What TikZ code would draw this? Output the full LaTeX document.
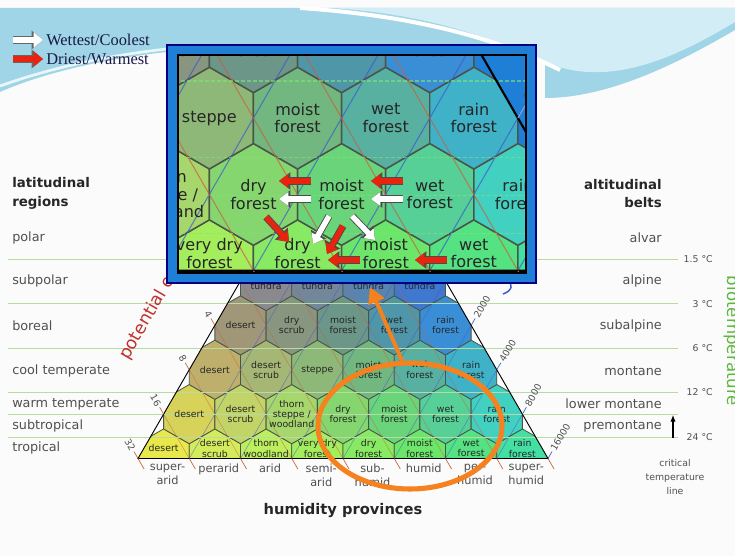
\documentclass[tikz,border=0pt]{standalone}
\usepackage{fontspec}
\setmainfont{DejaVu Sans}
\newfontfamily\legendfont{Liberation Serif}
\usepackage{tikz}
\usetikzlibrary{arrows.meta, shapes.geometric}

\definecolor{paper}{HTML}{FBFBFB}
\definecolor{swooshblue}{HTML}{9FD5E6}
\definecolor{swooshlight}{HTML}{D2EDF5}
\definecolor{frameblue}{HTML}{1F7FD6}
\definecolor{tempgreen}{HTML}{B6DCA6}
\definecolor{biogreen}{HTML}{5CB83C}
\definecolor{petred}{HTML}{C8603C}
\definecolor{precblue}{HTML}{3A5ACC}
\definecolor{hexline}{HTML}{4A5548}
\definecolor{labelgrey}{HTML}{505050}
\definecolor{potred}{HTML}{C0302C}
\definecolor{circleorange}{HTML}{F5821F}
\definecolor{arrowred}{HTML}{E8240E}

\tikzstyle{hexcell}=[draw=hexline, line width=0.6pt]
\tikzstyle{petline}=[petred, line width=0.4pt, opacity=0.6]
\tikzstyle{precline}=[precblue, line width=0.4pt, opacity=0.6]
\tikzstyle{pettick}=[petred, line width=0.5pt]
\tikzstyle{prectick}=[precblue, line width=0.5pt]
\tikzstyle{templine}=[tempgreen, line width=0.5pt]
\tikzstyle{edgeline}=[black, line width=0.7pt]
\tikzstyle{zonelabel}=[font=\fontsize{7}{7.6}\selectfont, align=center, text=black!85, inner sep=0pt]
\tikzstyle{ticklabel}=[font=\fontsize{7}{8}\selectfont, text=labelgrey, inner sep=0.5pt]
\tikzstyle{regionlabel}=[font=\fontsize{9.6}{10}\selectfont, text=labelgrey, inner sep=0pt]
\tikzstyle{headlabel}=[font=\bfseries\fontsize{10}{14}\selectfont, text=black!85, inner sep=0pt]
\tikzstyle{templabel}=[font=\fontsize{7}{10.5}\selectfont, text=labelgrey, inner sep=0pt]
\tikzstyle{humidlabel}=[font=\fontsize{8.5}{10.5}\selectfont, text=labelgrey, align=center, inner sep=0pt, anchor=north]
\tikzstyle{legendtext}=[font=\legendfont\fontsize{12.3}{13}\selectfont, text=black!80!blue!90, anchor=west, inner sep=0pt]
\tikzstyle{blockarrow}=[line width=4pt, -{Triangle[width=10pt,length=7pt]},
  preaction={draw=black!70, line width=5.4pt, -{Triangle[width=12.6pt,length=8.5pt]}}]
\tikzstyle{legendarrow}=[line width=4.6pt, -{Triangle[width=11pt,length=7pt]},
  preaction={draw=black!60, line width=6pt, -{Triangle[width=13.5pt,length=8.5pt]}}]
\tikzstyle{focusring}=[ellipse, draw=circleorange, line width=3.8pt, minimum width=138pt, minimum height=94.5pt, inner sep=0pt]
\tikzstyle{zoomarrow}=[circleorange, line width=3pt, -{Triangle[width=12.5pt,length=12pt]}]

% colour/name of every zone, row by row from the base
\newcommand{\zonerows}{%
  0/{E8E84C/desert, D4EC5C/{desert\\scrub}, BCEE5E/{thorn\\woodland}, A4EE5E/{very dry\\forest}, 88EA62/{dry\\forest}, 6CE66A/{moist\\forest}, 54E282/{wet\\forest}, 44DFA2/{rain\\forest}},%
  1/{D6D25A/desert, C2D468/{desert\\scrub}, A6D66C/{thorn\\steppe /\\woodland}, 86D670/{dry\\forest}, 6AD47A/{moist\\forest}, 56D096/{wet\\forest}, 42D0C0/{rain\\forest}},%
  2/{BEB06C/desert, A6B674/{desert\\scrub}, 8EB878/steppe, 72B680/{moist\\forest}, 58B0A0/{wet\\forest}, 40B2C8/{rain\\forest}},%
  3/{A09678/desert, 889680/{dry\\scrub}, 6C9688/{moist\\forest}, 4E96A8/{wet\\forest}, 3A8ED6/{rain\\forest}},%
  4/{8A8A8E/{dry\\tundra}, 72889A/{moist\\tundra}, 5884B0/{wet\\tundra}, 4078D0/{rain\\tundra}}}

\newcommand{\lifezones}{%
  \begin{scope}
    \clip (138,458.5) -- (548,458.5) -- (343,103.4) -- cycle;
    \foreach \row/\zones in \zonerows {
      \foreach \zcol/\zname [count=\idx from 0] in \zones {
        \definecolor{zonefill}{HTML}{\zcol}
        \pgfmathsetmacro{\cx}{138+51.25*(\idx+0.5+\row/2)}
        \pgfmathsetmacro{\cy}{458.5-44.38*\row}
        \filldraw[hexcell, fill=zonefill] (\cx,\cy) +(30:29.59) -- +(90:29.59) -- +(150:29.59)
          -- +(210:29.59) -- +(270:29.59) -- +(330:29.59) -- cycle;
      }
    }
    \foreach \idx in {1,...,7} {
      \draw[petline] ({138+25.625*\idx},{458.5-44.38*\idx}) -- ({138+51.25*\idx},458.5);
      \draw[precline] ({138+51.25*\idx},458.5) -- ({548-25.625*(8-\idx)},{458.5-44.38*(8-\idx)});
    }
  \end{scope}
  \foreach \ty in {259.4,303.8,348.2,392.6,414.8,437} \draw[templine] (8,\ty) -- (678,\ty);
  \draw[edgeline] (138,458.5) -- (548,458.5) -- (343,103.4) -- cycle;
  % ticks
  \foreach \idx in {0,...,7} \draw[pettick] ({138+25.625*\idx},{458.5-44.38*\idx}) -- ++(-4,-6.9);
  \foreach \idx in {0,...,8} \draw[pettick] ({138+51.25*\idx},458.5) -- ++(6,10.4);
  \foreach \idx in {1,...,8} \draw[prectick] ({548-25.625*(8-\idx)},{458.5-44.38*(8-\idx)}) -- ++(4,-6.9);
  \foreach \idx/\ratio in {0/32,1/16,2/8,3/4}
    \node[ticklabel, anchor=east, rotate=-60] (ratio-\ratio) at ({138+25.625*\idx-4.5},{458.5-44.38*\idx-7.8}) {\ratio};
  \foreach \idx/\rain in {5/2000,6/4000,7/8000,8/16000}
    \node[ticklabel, anchor=west, rotate=60] (rain-\rain) at ({548-25.625*(8-\idx)+4.5},{458.5-44.38*(8-\idx)-7.8}) {\rain};
  % zone names
  \foreach \row/\zones in \zonerows {
    \foreach \zcol/\zname [count=\idx from 0] in \zones {
      \pgfmathsetmacro{\cx}{138+51.25*(\idx+0.5+\row/2)}
      \pgfmathsetmacro{\cy}{458.5-44.38*\row-10*(\row==0)}
      \node[zonelabel] (zone-\row-\idx) at (\cx,\cy) {\zname};
    }
  }%
}

\begin{document}
\begin{tikzpicture}[x=0.75pt, y=-0.75pt, >=latex]
  \useasboundingbox (0,0) rectangle (735,556);
  \fill[paper] (0,0) rectangle (735,556);
  % slide header
  \fill[swooshblue] (0,8) -- (735,8) -- (735,30) .. controls (680,62) and (610,98) .. (545,98)
    -- (545,45) -- (167,45) -- (167,52) .. controls (110,58) and (45,72) .. (0,92) -- cycle;
  \fill[swooshlight] (330,8) .. controls (430,14) and (490,38) .. (545,62)
    .. controls (610,90) and (680,55) .. (735,22) -- (735,8) -- cycle;
  \draw[white, line width=2pt, opacity=0.8] (0,86) .. controls (50,68) and (110,55) .. (167,49);
  \draw[white, line width=3pt] (300,8) .. controls (420,16) and (500,40) .. (560,70);

  \lifezones

  % left side
  \node[headlabel, align=left, anchor=west] (latitudinal) at (12,193.5) {latitudinal\\regions};
  \foreach \ty/\region in {238/polar, 281/subpolar, 326/boreal, 371/{cool temperate}, 404/{warm temperate}, 426/subtropical, 448/tropical}
    \node[regionlabel, anchor=west] (lat-\ty) at (12,\ty) {\region};
  \node[font=\fontsize{13}{14}\selectfont, text=potred, rotate=60, anchor=base west, inner sep=0pt] (potential) at (128,361) {potential evapotranspiration ratio};

  % right side
  \node[headlabel, align=right, anchor=east] (altitudinal) at (662,193.5) {altitudinal\\belts};
  \foreach \ty/\belt in {238/alvar, 281/alpine, 326/subalpine, 371/montane, 404/{lower montane}, 426/premontane}
    \node[regionlabel, anchor=east] (alt-\ty) at (662,\ty) {\belt};
  \foreach \ty/\deg in {259.4/1.5, 303.8/3, 348.2/6, 392.6/12, 437/24}
    \node[templabel, anchor=east] (temp-\deg) at (713,\ty) {\deg\ °C};
  \node[font=\fontsize{12.5}{13}\selectfont, text=biogreen, rotate=-90, anchor=base, inner sep=0pt] (biotemp) at (727,341) {biotemperature};
  \coordinate (critlow) at (673,438);
  \coordinate (crithigh) at (673,415);
  \draw[-{Latex[length=5pt,width=4pt]}, line width=0.8pt] (critlow) -- (crithigh);
  \node[templabel, align=center] (critical) at (675,477) {critical\\temperature\\line};
  \draw[precblue, line width=1.1pt] (507,280) .. controls (514,284) and (512,291) .. (503,294);

  % bottom
  \foreach \idx/\prov in {0/{super-\\arid}, 1/perarid, 2/arid, 3/{semi-\\arid}, 4/{sub-\\humid}, 5/humid, 6/{per-\\humid}, 7/{super-\\humid}}
    \node[humidlabel] (humid-\idx) at ({138+51.25*\idx+29.5},463.5) {\prov};
  \node[headlabel, font=\bfseries\fontsize{11}{12}\selectfont] (provinces) at (343,511) {humidity provinces};

  % zoom
  \node[focusring] (focus) at (410,426) {};
  \coordinate (zoomtip) at (370,287);
  \draw[zoomarrow] (focus.97) -- (zoomtip);

  \draw[fill=frameblue, draw=black!50!blue, line width=0.8pt] (167,45) rectangle (536,283);
  \begin{scope}
    \clip (178,55) rectangle (526,273);
    \fill[frameblue] (178,55) rectangle (526,273);
    \begin{scope}[shift={(-336.5,-517.9)}, scale=1.72, transform shape,
        hexcell/.style={draw=hexline, line width=1.1pt},
        petline/.style={petred, line width=0.8pt, opacity=0.7},
        precline/.style={precblue, line width=0.8pt, opacity=0.7},
        templine/.style={tempgreen!70!green, line width=1pt, opacity=0.6, dash pattern=on 3pt off 1.5pt},
        edgeline/.style={black, line width=1.6pt},
        pettick/.style={petred, line width=0.8pt},
        prectick/.style={precblue!60!white, line width=0.8pt}]
      \lifezones
    \end{scope}
  \end{scope}
  \draw[black, line width=1.6pt] (178,55) rectangle (526,273);

  % arrows in the zoom
  \coordinate (ar1a) at (311,181); \coordinate (ar1b) at (279,181);
  \coordinate (aw1a) at (311,199); \coordinate (aw1b) at (279,199);
  \coordinate (ar2a) at (403,181); \coordinate (ar2b) at (371,181);
  \coordinate (aw2a) at (403,199); \coordinate (aw2b) at (371,199);
  \coordinate (ar3a) at (266,217); \coordinate (ar3b) at (289,242);
  \coordinate (aw3a) at (329,216); \coordinate (aw3b) at (313,244);
  \coordinate (ar4a) at (343,226); \coordinate (ar4b) at (327,254);
  \coordinate (aw4a) at (352,216); \coordinate (aw4b) at (375,240);
  \coordinate (ar5a) at (360,260); \coordinate (ar5b) at (328,260);
  \coordinate (ar6a) at (447,260); \coordinate (ar6b) at (415,260);
  \foreach \from/\to in {ar1a/ar1b, ar2a/ar2b, ar3a/ar3b, ar4a/ar4b, ar5a/ar5b, ar6a/ar6b}
    \draw[blockarrow, draw=arrowred] (\from) -- (\to);
  \foreach \from/\to in {aw1a/aw1b, aw2a/aw2b, aw3a/aw3b, aw4a/aw4b}
    \draw[blockarrow, draw=white] (\from) -- (\to);

  % legend
  \coordinate (wetfrom) at (13,40); \coordinate (wetto) at (43,40);
  \draw[legendarrow, draw=white] (wetfrom) -- (wetto);
  \node[legendtext] (wettest) at (46,40) {Wettest/Coolest};
  \coordinate (dryfrom) at (13,59); \coordinate (dryto) at (43,59);
  \draw[legendarrow, draw=arrowred] (dryfrom) -- (dryto);
  \node[legendtext] (driest) at (46,59) {Driest/Warmest};
\end{tikzpicture}
\end{document}
